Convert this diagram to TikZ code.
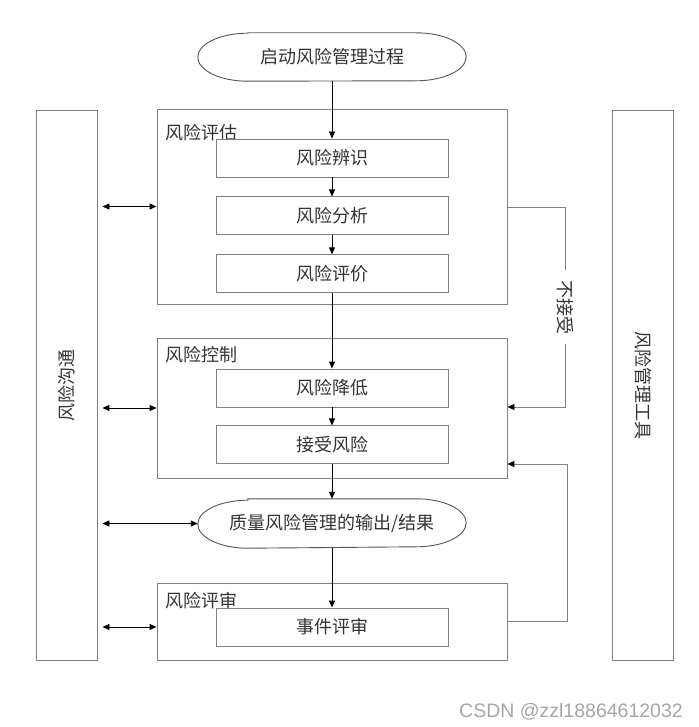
\documentclass[tikz,border=0pt]{standalone}
\usepackage{fontspec}
\newfontfamily\cjk{Noto Sans CJK SC}
\newfontfamily\wmfont{Liberation Sans}
\usetikzlibrary{arrows.meta, positioning, calc}
\definecolor{linegray}{HTML}{808080}
\definecolor{stagegray}{HTML}{555555}
\definecolor{textgray}{HTML}{333333}
\tikzset{
  box/.style={draw=linegray, fill=white, line width=0.9pt, rectangle, minimum width=232pt, minimum height=38pt, inner sep=0pt},
  group/.style={draw=linegray, line width=0.9pt, rectangle, minimum width=350pt, inner sep=0pt},
  stage/.style={rectangle, minimum width=268pt, minimum height=48pt, inner sep=0pt},
  side/.style={draw=linegray, line width=0.9pt, rectangle, minimum width=61pt, minimum height=550pt, inner sep=0pt},
  grouplabel/.style={inner sep=0pt},
  fbtext/.style={rotate=-90, fill=white, text=textgray, inner sep=10pt},
  flow/.style={-{Triangle[length=7pt, width=6pt]}, line width=0.9pt, black},
  both/.style={{Triangle[length=7pt, width=6pt]}-{Triangle[length=7pt, width=6pt]}, line width=0.9pt, black},
  fb/.style={-{Triangle[length=7pt, width=6pt, color=black]}, line width=0.9pt, linegray},
}
% stadium outline with elliptic ends round a stage node
\newcommand\stadium[1]{%
  \draw[stagegray, line width=0.9pt] ([xshift=50pt]#1.north west) -- ([xshift=-50pt]#1.north east)
    arc[start angle=90, end angle=-90, x radius=50pt, y radius=24pt]
    -- ([xshift=50pt]#1.south west)
    arc[start angle=270, end angle=90, x radius=50pt, y radius=24pt] -- cycle;}

\begin{document}
\begin{tikzpicture}[x=1pt, y=-1pt, font={\cjk\fontsize{18pt}{20pt}\selectfont}, text=textgray]
  \useasboundingbox (0,0) rectangle (698,727);

  % side columns
  \node[side] (comm) at (66.5,385) {};
  \node[rotate=90] (commtext) at (comm) {风险沟通};
  \node[side] (tool) at (643,385) {};
  \node[rotate=-90] (tooltext) at (tool) {风险管理工具};

  % start
  \node[stage] (start) at (332,57) {启动风险管理过程};
  \stadium{start}

  % risk assessment
  \node[group, minimum height=195pt] (assess) at (332,206.5) {};
  \node[grouplabel, below right=16pt and 9pt of assess.north west] (assesslbl) {风险评估};
  \node[box] (ident) at (332,158) {风险辨识};
  \node[box, below=19pt of ident] (anal) {风险分析};
  \node[box, below=19pt of anal] (eval) {风险评价};

  % risk control
  \node[group, minimum height=140pt] (control) at (332,408) {};
  \node[grouplabel, below right=9pt and 9pt of control.north west] (controllbl) {风险控制};
  \node[box] (reduce) at (332,388) {风险降低};
  \node[box, below=18pt of reduce] (accept) {接受风险};

  % output
  \node[stage, minimum height=49pt] (output) at (332,523.5) {质量风险管理的输出/结果};
  \stadium{output}

  % risk review
  \node[group, minimum height=77pt] (review) at (332,621.5) {};
  \node[grouplabel, below right=9pt and 9pt of review.north west] (reviewlbl) {风险评审};
  \node[box] (event) at (332,627) {事件评审};

  % main flow
  \draw[flow] (start) -- (ident);
  \draw[flow] (ident) -- (anal);
  \draw[flow] (anal) -- (eval);
  \draw[flow] (eval) -- (reduce);
  \draw[flow] (reduce) -- (accept);
  \draw[flow] (accept) -- (output);
  \draw[flow] (output) -- (event);

  % communication
  \draw[both, shorten <=5pt] (comm.east |- assess.west) -- (assess.west);
  \draw[both, shorten <=5pt] (comm.east |- control.west) -- (control.west);
  \draw[both, shorten <=5pt] (comm.east |- output.west) -- (output.west);
  \draw[both, shorten <=5pt] (comm.east |- event) -- (event -| review.west);

  % feedback
  \coordinate (fb1) at (565,207);
  \coordinate (fb2) at (565,407);
  \coordinate (fb3) at (567,464);
  \draw[fb] (assess.east |- fb1) -- (fb1) -- node[fbtext] {不接受} (fb2) -- (control.east |- fb2);
  \draw[fb] (review.east) -| (fb3) -- (control.east |- fb3);

  \node[font={\wmfont\fontsize{19.5pt}{22pt}\selectfont}, text=gray!70] (mark) at (571,712) {CSDN @zzl18864612032};
\end{tikzpicture}
\end{document}
